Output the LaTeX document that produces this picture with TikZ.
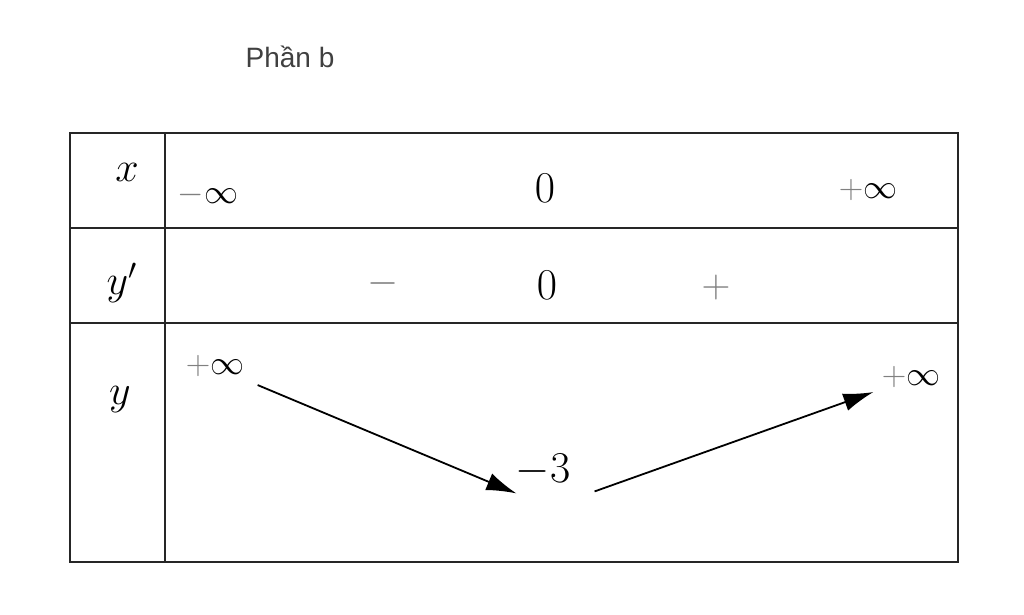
\documentclass[tikz,border=0pt]{standalone}
\usepackage{fix-cm}
\usepackage{fontspec}
\newfontfamily\capfont{Liberation Sans}
\usetikzlibrary{arrows.meta}
\definecolor{signgray}{gray}{0.5}
\definecolor{capgray}{gray}{0.25}
\newcommand{\pinf}{\textcolor{signgray}{+}\infty}
\newcommand{\minf}{\textcolor{signgray}{-}\infty}
\tikzset{
  grid/.style={line width=1.1pt, black!85},
  captext/.style={font=\capfont\fontsize{14}{17}\selectfont, text=capgray},
  lab/.style={font=\fontsize{21}{25}\selectfont, inner sep=2pt},
  val/.style={font=\fontsize{17}{20}\selectfont, inner sep=2pt},
  sgn/.style={font=\fontsize{20}{24}\selectfont, inner sep=2pt},
  big/.style={font=\fontsize{22}{26}\selectfont, inner sep=2pt},
  varrow/.style={-{Latex[length=15pt,width=9pt]}, line width=0.9pt}
}
\begin{document}
\begin{tikzpicture}[x=0.5pt, y=-0.5pt]
  \useasboundingbox (0,0) rectangle (1024,615);
  % table
  \draw[grid] (70,133) rectangle (958,562);
  \draw[grid] (165,133) -- (165,562);
  \draw[grid] (70,228) -- (958,228);
  \draw[grid] (70,323) -- (958,323);
  \node[captext] (title) at (290,57) {Phần b};
  % row x
  \node[lab] (xl) at (127,172) {$x$};
  \node[val] (xa) at (208,195) {$\minf$};
  \node[big] (x0) at (545,188) {$0$};
  \node[val] (xb) at (868,190) {$\pinf$};
  % row y'
  \node[lab] (dl) at (122,283) {$y'$};
  \node[sgn] (dm) at (383,283) {$\textcolor{signgray}{-}$};
  \node[big] (d0) at (547,285) {$0$};
  \node[sgn] (dp) at (716,288) {$\textcolor{signgray}{+}$};
  % row y
  \node[lab] (yl) at (120,400) {$y$};
  \node[val] (ya) at (215,366) {$\pinf$};
  \node[big] (ym) at (543,470) {$-3$};
  \node[val] (yb) at (911,377) {$\pinf$};
  \draw[varrow] ([xshift=4.5pt,yshift=-2pt]ya.south east) -- ([xshift=2.5pt,yshift=-1.5pt]ym.south west);
  \draw[varrow] ([xshift=10pt,yshift=-0.5pt]ym.south east) -- ([xshift=-2pt]yb.south west);
\end{tikzpicture}
\end{document}
